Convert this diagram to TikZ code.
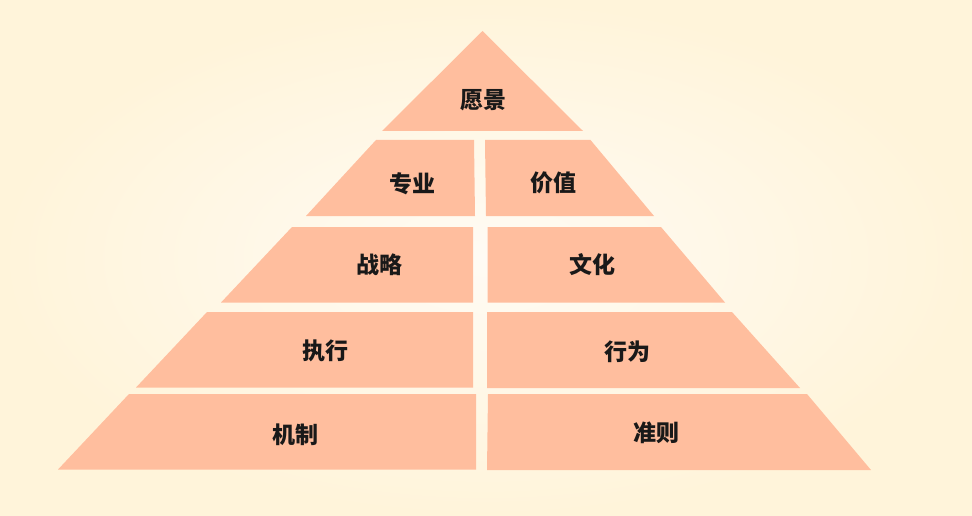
\documentclass[tikz,border=0pt]{standalone}
\usepackage{fontspec}
\newfontfamily\cjk{Noto Sans CJK SC}
\usepackage{tikz}
\definecolor{paper}{RGB}{255,244,218}
\definecolor{paperlight}{RGB}{255,251,244}
\definecolor{salmon}{RGB}{255,190,158}
\tikzset{
  block/.style={fill=salmon},
  tag/.style={font=\cjk\bfseries\fontsize{23}{23}\selectfont, text=black!90, inner sep=0pt}
}

\begin{document}
\begin{tikzpicture}[x=1pt,y=-1pt]
  % background
  \useasboundingbox (0,0) rectangle (972,516);
  \shade[inner color=paperlight, outer color=paper] (0,0) rectangle (972,516);
  % top
  \fill[block] (482.5,31)--(583,131)--(382,131)--cycle;
  % second row
  \fill[block] (376,140)--(474,140)--(475,216)--(306,216)--cycle;
  \fill[block] (485,140)--(590.5,140)--(654,216)--(486,216)--cycle;
  % third row
  \fill[block] (292,227)--(473,227)--(473,302.5)--(221,302.5)--cycle;
  \fill[block] (487.5,227)--(661,227)--(725,302.5)--(487.5,302.5)--cycle;
  % fourth row
  \fill[block] (207,312)--(473,312)--(473,387.5)--(136,387.5)--cycle;
  \fill[block] (487,312)--(732,312)--(800,388)--(487,388)--cycle;
  % base
  \fill[block] (129,394)--(476,394)--(476,469.5)--(58,469.5)--cycle;
  \fill[block] (488,394)--(807,394)--(871,470)--(487,470)--cycle;
  % labels
  \node[tag] (vision) at (483,100) {愿景};
  \node[tag] (major) at (412,184) {专业};
  \node[tag] (value) at (553,183) {价值};
  \node[tag] (strategy) at (379,265) {战略};
  \node[tag] (culture) at (592,265) {文化};
  \node[tag] (execute) at (325,351) {执行};
  \node[tag] (behave) at (627,352) {行为};
  \node[tag] (mechanism) at (295,435) {机制};
  \node[tag] (rule) at (656,433) {准则};
\end{tikzpicture}
\end{document}
